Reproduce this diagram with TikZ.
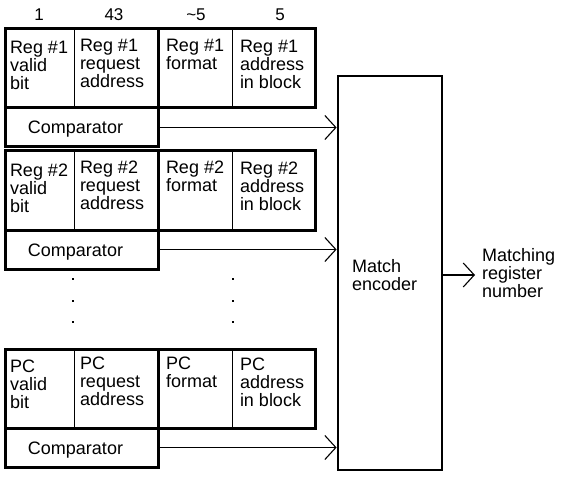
\documentclass[tikz,border=0pt]{standalone}
\usepackage{fontspec}
\setmainfont{Liberation Sans}
\usetikzlibrary{arrows.meta}
\begin{document}
\begin{tikzpicture}[x=1pt,y=-1pt,
 lbl/.style={inner sep=0pt, outer sep=0pt, align=left, font=\fontsize{18}{18}\selectfont},
 hdr/.style={inner sep=0pt, font=\fontsize{17}{18}\selectfont, anchor=base},
 groupbox/.style={draw, line width=3pt},
 divider/.style={draw, line width=1pt},
 compbox/.style={draw, line width=3pt, minimum width=153pt, minimum height=39pt, inner sep=0pt},
 encbox/.style={draw, line width=2.8pt, minimum width=104pt, minimum height=394pt, inner sep=0pt},
 arr/.style={line width=1.1pt, -{Straight Barb[length=11pt,width=24pt,line width=1.1pt]}},
 dotmark/.style={rectangle, fill, inner sep=0pt, minimum size=2.6pt}
]
\useasboundingbox (0,0) rectangle (564,486);

% column headers
\node[hdr] (h1) at (39,21) {1};
\node[hdr] (h2) at (114,21) {43};
\node[hdr] (h3) at (196,21) {\textasciitilde5};
\node[hdr] (h4) at (280,21) {5};

% match encoder
\node[encbox] (enc) at (390,273) {};
\node[lbl, anchor=north west] (enctext) at (352,259) {Match\\encoder};

% registers and comparators
\foreach \t/\n/\i/\d in {29/Reg \#1/1/0, 151/Reg \#2/2/0, 349/PC/3/-2}{
  \draw[groupbox] (5,\t) rectangle (158,\t+79);
  \draw[groupbox] (158,\t) rectangle (315,\t+79);
  \draw[divider] (74,\t) -- (74,\t+79);
  \draw[divider] (232,\t) -- (232,\t+79);
  \node[lbl, anchor=north west] (v\i) at (10,\t+12.5+\d) {\n\\valid\\bit};
  \node[lbl, anchor=north west] (r\i) at (80,\t+10+\d) {\n\\request\\address};
  \node[lbl, anchor=north west] (f\i) at (166,\t+10+\d) {\n\\format};
  \node[lbl, anchor=north west] (a\i) at (240,\t+11+\d) {\n\\address\\in block};
  \node[compbox] (c\i) at (81.5,\t+98.5) {};
  \node[lbl, anchor=base] (ct\i) at (75.5,\t+105) {Comparator};
  \draw[arr] (c\i.east) -- (c\i.east -| enc.west);
}

% vertical ellipses
\foreach \y [count=\k] in {279,301,322}{
  \node[dotmark] (dl\k) at (73,\y) {};
  \node[dotmark] (dr\k) at (233,\y) {};
}

% output
\coordinate (otip) at (475,275);
\draw[arr] (enc.east |- otip) -- (otip);
\node[lbl, anchor=north west] (out) at (482,248.5) {Matching\\register\\number};
\end{tikzpicture}
\end{document}
